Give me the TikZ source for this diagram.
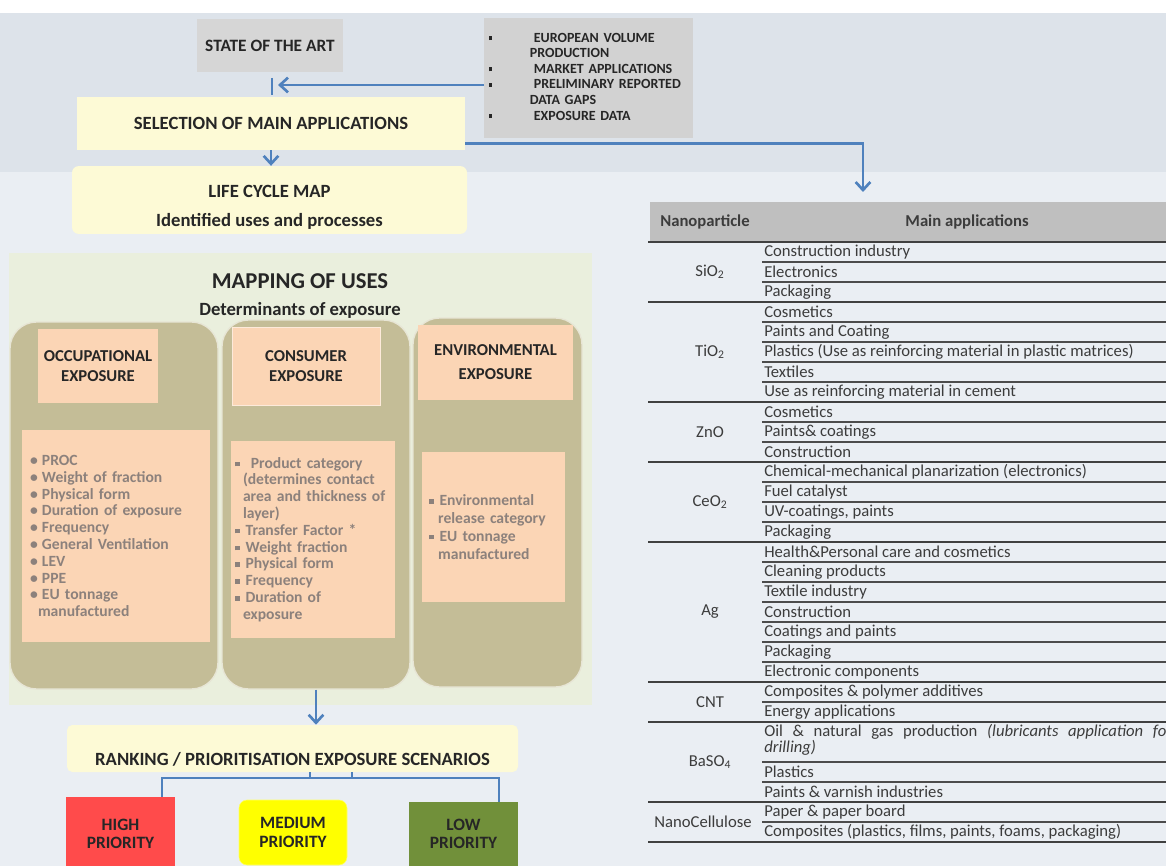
\documentclass[tikz,border=0pt]{standalone}
\usepackage{fontspec}
\setmainfont{Carlito}
\usetikzlibrary{arrows.meta}

\definecolor{bgblue}{HTML}{DDE3EA}
\definecolor{bglight}{HTML}{EAEEF3}
\definecolor{boxgrey}{HTML}{D6D6D6}
\definecolor{infogrey}{HTML}{D2D2D2}
\definecolor{paleyel}{HTML}{FDFAD6}
\definecolor{panelgreen}{HTML}{EAEFDD}
\definecolor{cololive}{HTML}{C4BD97}
\definecolor{salmon}{HTML}{FBD5B5}
\definecolor{flowblue}{HTML}{4F81BD}
\definecolor{listgrey}{HTML}{8C817C}
\definecolor{tabgrey}{HTML}{BFBFBF}
\definecolor{tabtext}{HTML}{3C3C3C}
\definecolor{hired}{HTML}{FF4B4B}
\definecolor{medyel}{HTML}{FFFF00}
\definecolor{lowgreen}{HTML}{71903A}

\newcommand{\dotitem}{\makebox[9pt][l]{\textbullet}}
\newcommand{\sqitem}{\makebox[8pt][l]{\rule[0.25ex]{0.3em}{0.3em}}}
\newcommand{\sqmark}{\rule[0.3ex]{0.28em}{0.28em}}

\begin{document}
\begin{tikzpicture}[x=0.75pt,y=-0.75pt,
    >={Straight Barb[length=6pt,width=11pt]},
    flow/.style={draw=flowblue,line width=2pt},
    greybox/.style={fill=boxgrey,font=\bfseries\fontsize{13}{15}\selectfont,text=black!85},
    paleyellow/.style={fill=paleyel,font=\bfseries\fontsize{14}{22}\selectfont,text=black!85},
    column/.style={fill=cololive,draw=white!60!cololive,line width=1pt,rounded corners=20pt},
    headbox/.style={fill=salmon,align=center,font=\bfseries\fontsize{12.5}{14.5}\selectfont,text=black!85},
    listbox/.style={fill=salmon,align=left,font=\bfseries\fontsize{11.7}{12.6}\selectfont,text=listgrey},
    prio/.style={align=center,font=\bfseries\fontsize{13}{14}\selectfont,text=black!85,minimum width=81.75pt},
    apptext/.style={anchor=west,inner sep=0pt,font=\fontsize{12.5}{12.5}\selectfont,text=tabtext},
    nptext/.style={inner sep=0pt,font=\fontsize{12.5}{14}\selectfont,text=tabtext},
    thinrule/.style={draw=black!70,line width=1pt},
    thickrule/.style={draw=black!75,line width=1.8pt}
  ]
  \useasboundingbox (0,0) rectangle (1166,866);
  \clip (0,0) rectangle (1166,866);
  \fill[white] (0,0) rectangle (1166,866);
  \fill[bgblue] (0,13) rectangle (1166,172);
  \fill[bglight] (0,172) rectangle (1166,866);

  % top of the flow
  \node[greybox,minimum width=109.5pt,minimum height=39.75pt] (sota) at (270,45.5) {STATE OF THE ART};
  \node[greybox,fill=infogrey,text width=150pt,minimum height=90pt,align=left,font=\bfseries\fontsize{10.5}{11.7}\selectfont] (info) at (588.5,78) {%
    \begin{tabular}{@{}p{34pt}@{}l@{}}
    \sqmark & EUROPEAN VOLUME\\
    & \hspace{-3pt}PRODUCTION\\
    \sqmark & MARKET APPLICATIONS\\
    \sqmark & PRELIMINARY REPORTED\\
    & \hspace{-3pt}DATA GAPS\\
    \sqmark & EXPOSURE DATA
    \end{tabular}};
  \node[paleyellow,minimum width=291pt,minimum height=39.75pt] (select) at (271,123.5) {SELECTION OF MAIN APPLICATIONS};
  \node[paleyellow,rounded corners=5pt,align=center,minimum width=296.25pt,minimum height=45pt] (life) at (269.5,200) {\rule{0pt}{20pt}LIFE CYCLE MAP\\Identified uses and processes};

  \coordinate (tick) at (278,85);
  \coordinate (bartop) at (272,78);
  \coordinate (barbot) at (272,95);
  \coordinate (tabin) at (863,192);
  \draw[flow] (bartop) -- (barbot);
  \draw[flow,->] (info.west |- tick) -- (tick);
  \draw[flow,->] (select.south) -- (select.south |- life.north);
  \draw[flow,->] ([yshift=5.25pt]select.south east) -| (tabin);

  % mapping of uses
  \node[fill=panelgreen,minimum width=437.25pt,minimum height=339pt] (panel) at (300.5,479) {};
  \node[font=\bfseries\fontsize{17}{19}\selectfont,text=black!85] (maptitle) at (300,281) {MAPPING OF USES};
  \node[font=\bfseries\fontsize{14}{16}\selectfont,text=black!85] (mapsub) at (300,310) {Determinants of exposure};

  \node[column,minimum width=156pt,minimum height=275.25pt] (occcol) at (114,505.5) {};
  \node[column,minimum width=141pt,minimum height=276.75pt] (conscol) at (316,504.5) {};
  \node[column,minimum width=126.75pt,minimum height=276.75pt] (envcol) at (497.5,502.5) {};

  \node[headbox,minimum width=90pt,minimum height=55.5pt] (occhead) at (98,366) {OCCUPATIONAL\\EXPOSURE};
  \node[headbox,draw=white!50!salmon,minimum width=111pt,minimum height=58.5pt] (conshead) at (306,366) {CONSUMER\\EXPOSURE};
  \node[headbox,minimum width=116.25pt,minimum height=56.25pt] (envhead) at (495.5,362) {ENVIRONMENTAL\\[3pt]EXPOSURE};

  \node[listbox,minimum width=141pt,minimum height=159pt,text width=129pt] (occlist) at (116,536) {%
    \dotitem PROC\\ \dotitem Weight of fraction\\ \dotitem Physical form\\ \dotitem Duration of exposure\\
    \dotitem Frequency\\ \dotitem General Ventilation\\ \dotitem LEV\\ \dotitem PPE\\
    \dotitem EU tonnage\\ \hspace*{6pt}manufactured};
  \node[listbox,minimum width=123pt,minimum height=147.75pt,text width=117pt] (conslist) at (313,539.5) {%
    \sqitem\ Product category\\ \hspace*{6pt}(determines contact\\ \hspace*{6pt}area and thickness of\\ \hspace*{6pt}layer)\\
    \sqitem Transfer Factor *\\ \sqitem Weight fraction\\ \sqitem Physical form\\ \sqitem Frequency\\
    \sqitem Duration of\\ \hspace*{6pt}exposure};
  \node[listbox,minimum width=107.25pt,minimum height=112.5pt,text width=97pt,font=\bfseries\fontsize{11.7}{13.3}\selectfont] (envlist) at (493.5,527) {%
    \sqitem Environmental\\ \hspace*{7pt}release category\\ \sqitem EU tonnage\\ \hspace*{7pt}manufactured};

  % ranking
  \node[paleyellow,rounded corners=4pt,minimum width=338.25pt,minimum height=35.25pt,text height=26pt] (rank) at (292.5,748.5) {RANKING / PRIORITISATION EXPOSURE SCENARIOS};
  \node[prio,fill=hired,minimum height=55.5pt] (high) at (120.5,834) {HIGH\\PRIORITY};
  \node[prio,fill=medyel,draw=white!40!medyel,rounded corners=6pt,minimum width=81pt,minimum height=48.75pt] (medium) at (293,832.5) {MEDIUM\\PRIORITY};
  \node[prio,fill=lowgreen,minimum height=48pt] (low) at (463.5,834) {LOW\\PRIORITY};

  \coordinate (tickA) at (310,778);
  \coordinate (tickB) at (352,778);
  \coordinate (hdrop) at (162,778);
  \coordinate (ldrop) at (499,778);
  \draw[flow,->] (conscol.south) -- (conscol.south |- rank.north);
  \draw[flow] (rank.south -| tickA) -- (tickA);
  \draw[flow] (rank.south -| tickB) -- (tickB);
  \draw[flow] (high.north -| hdrop) |- (ldrop) -- (low.north -| ldrop);

  % table of main applications
  \node[fill=tabgrey,minimum width=390pt,minimum height=30pt,anchor=north west,inner sep=0pt] (thead) at (650,202) {};
  \node[font=\bfseries\fontsize{12.5}{14}\selectfont,text=tabtext] (hnano) at (705,222) {Nanoparticle};
  \node[font=\bfseries\fontsize{12.5}{14}\selectfont,text=tabtext] (happ) at (967,222) {Main applications};

  \foreach \k in {1,2,4,5,6,7,9,10,12,13,14,16,17,18,19,20,21,23,26,27,29}
    \draw[thinrule] (762,242+20*\k) -- (1166,242+20*\k);
  \foreach \k in {0,3,8,11,15,22,24,28,30}
    \draw[thickrule] (648,242+20*\k) -- (1166,242+20*\k);

  \node[nptext] (sio2) at (710,272) {SiO\textsubscript{2}};
  \node[nptext] (tio2) at (710,352) {TiO\textsubscript{2}};
  \node[nptext] (zno) at (710,432) {ZnO};
  \node[nptext] (ceo2) at (710,502) {CeO\textsubscript{2}};
  \node[nptext] (ag) at (710,612) {Ag};
  \node[nptext] (cnt) at (710,702) {CNT};
  \node[nptext] (baso4) at (710,762) {BaSO\textsubscript{4}};
  \node[nptext] (nanocell) at (703,822) {NanoCellulose};

  \foreach \app [count=\i] in {Construction industry, Electronics, Packaging, Cosmetics, Paints and Coating,
      Plastics (Use as reinforcing material in plastic matrices), Textiles, Use as reinforcing material in cement,
      Cosmetics, Paints\& coatings, Construction, Chemical-mechanical planarization (electronics), Fuel catalyst,
      {UV-coatings, paints}, Packaging, Health\&Personal care and cosmetics, Cleaning products, Textile industry,
      Construction, Coatings and paints, Packaging, Electronic components, Composites \& polymer additives,
      Energy applications}
    \node[apptext] (app\i) at (764,232+20*\i) {\app};
  \node[apptext,text width=306pt,align=justify] (app25) at (764,740) {Oil \& natural gas production \textit{(lubricants application for}\linebreak\textit{drilling)}};
  \foreach \app [count=\i from 27] in {Plastics, Paints \& varnish industries, Paper \& paper board,
      {Composites (plastics, films, paints, foams, packaging)}}
    \node[apptext] (app\i) at (764,232+20*\i) {\app};
\end{tikzpicture}
\end{document}
